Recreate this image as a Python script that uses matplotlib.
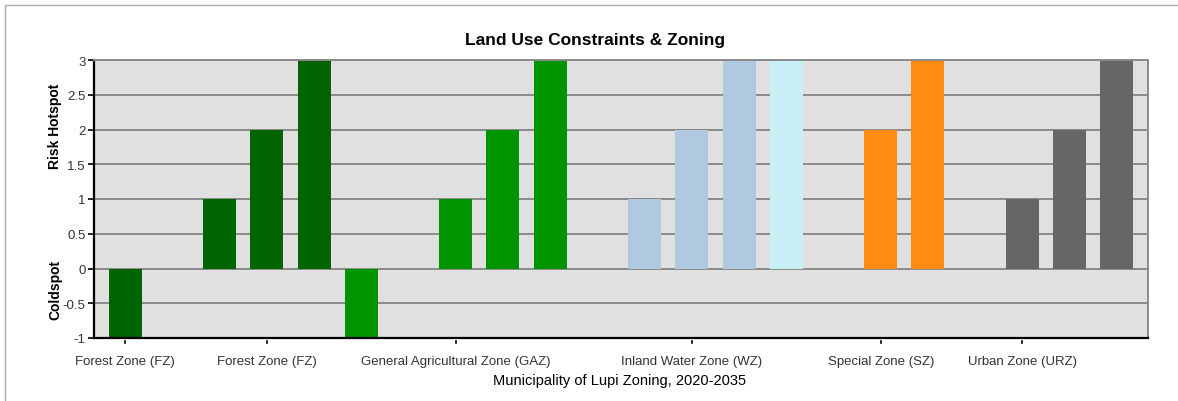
import matplotlib
matplotlib.use('Agg')
import matplotlib.pyplot as plt
from matplotlib.patches import Rectangle

plt.rcParams['font.family'] = ['Liberation Sans', 'DejaVu Sans']

# bar slots along the category axis (gaps between zones are empty slots)
slots = [0, 2, 3, 4, 5, 7, 8, 9, 11, 12, 13, 14, 16, 17, 19, 20, 21]
values = [-1, 1, 2, 3, -1, 1, 2, 3, 1, 2, 3, 3, 2, 3, 1, 2, 3]
colors = ['#006400'] * 4 + ['#009400'] * 4 + ['#B0C8E0'] * 3 + ['#C8EEF6'] + \
         ['#FF8C10'] * 2 + ['#666666'] * 3

tick_slots = [0, 3, 7, 12, 16, 19]
tick_labels = ['Forest Zone (FZ)', 'Forest Zone (FZ)', 'General Agricultural Zone (GAZ)',
               'Inland Water Zone (WZ)', 'Special Zone (SZ)', 'Urban Zone (URZ)']
y_ticks = [-1, -0.5, 0, 0.5, 1, 1.5, 2, 2.5, 3]

fig = plt.figure(figsize=(11.78, 4.02), dpi=100)
fig.patches.append(Rectangle((5 / 1178, -0.1), 1.2, 1 - 6 / 402 + 0.1,
                             transform=fig.transFigure, fill=False,
                             edgecolor='#AAAAAA', linewidth=1.0))

ax = fig.add_axes([94 / 1178, 1 - 339 / 402, (1148 - 94) / 1178, (339 - 61) / 402])
ax.set_facecolor('#E0E0E0')
ax.set_axisbelow(True)
ax.yaxis.grid(True, color='#8A8A8A', linewidth=1.4)

ax.bar(slots, values, width=0.7, color=colors, zorder=2)

ax.set_xlim(-0.66, 21.66)
ax.set_ylim(-1, 3)
ax.set_yticks(y_ticks)
ax.set_yticklabels(['-1', '-0.5', '0', '0.5', '1', '1.5', '2', '2.5', '3'])
ax.set_xticks(tick_slots)
ax.set_xticklabels(tick_labels)
ax.tick_params(axis='both', labelsize=9.5, labelcolor='#333333', length=4, width=1.2)
ax.tick_params(axis='x', pad=12, length=0)
ax.tick_params(axis='y', pad=2)
# short tick marks set a little below the x axis
for s in tick_slots:
    ax.plot([s, s], [-1.04, -1.07], color='black', linewidth=1.2,
            clip_on=False, zorder=3)

for side in ['top', 'right']:
    ax.spines[side].set_color('#8A8A8A')
    ax.spines[side].set_linewidth(1.4)
for side in ['left', 'bottom']:
    ax.spines[side].set_color('black')
    ax.spines[side].set_linewidth(1.6)

fig.text(595 / 1178, 1 - 40 / 402, 'Land Use Constraints & Zoning',
         ha='center', va='center', fontsize=12.5, fontweight='bold')
fig.text(620 / 1178, 1 - 381 / 402, 'Municipality of Lupi Zoning, 2020-2035',
         ha='center', va='center', fontsize=10.5)
fig.text(55 / 1178, 1 - 126 / 402, 'Risk Hotspot', rotation=90,
         ha='center', va='center', fontsize=10, fontweight='bold')
fig.text(55 / 1178, 1 - 290 / 402, 'Coldspot', rotation=90,
         ha='center', va='center', fontsize=10, fontweight='bold')

fig.savefig('out.png', dpi=100)
